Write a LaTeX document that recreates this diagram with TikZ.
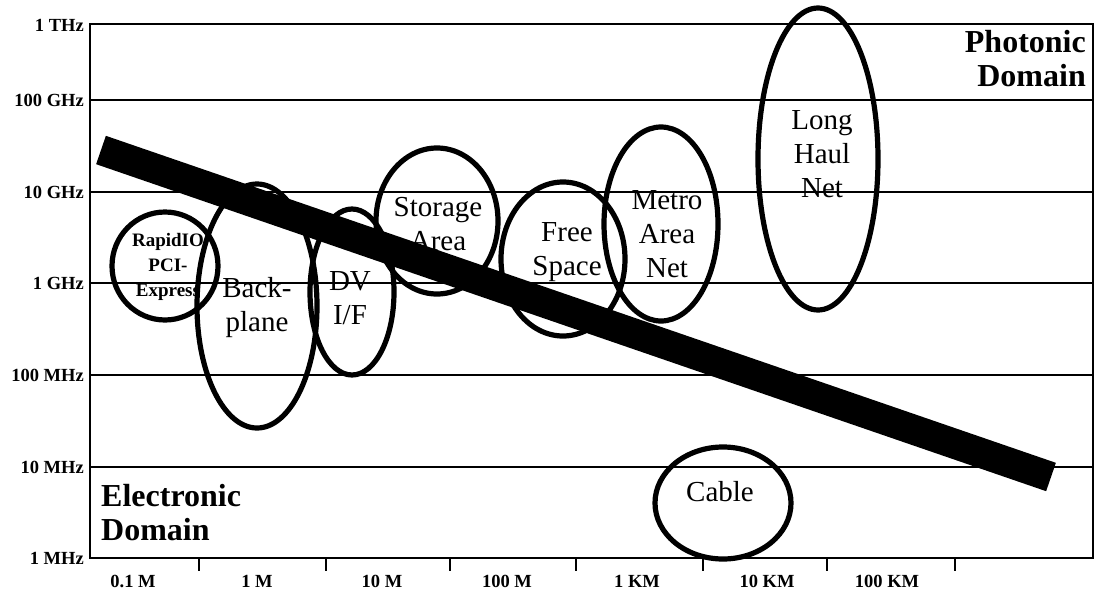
\documentclass[tikz,border=0pt]{standalone}
\usepackage{fontspec}
\setmainfont{Liberation Serif}
\usepackage{tikz}
\usetikzlibrary{calc,backgrounds}

\tikzset{
    zone/.style={line width=5.2pt},
    zonelabel/.style={align=center,inner sep=0pt,font=\fontsize{29}{34}\selectfont},
    smalllabel/.style={align=center,inner sep=0pt,font=\bfseries\fontsize{19}{25}\selectfont},
    axislabel/.style={inner sep=0pt,font=\bfseries\fontsize{18.5}{20}\selectfont},
    domainlabel/.style={inner sep=0pt,font=\bfseries\fontsize{32}{34}\selectfont},
    grid line/.style={line width=1.4pt}
}

\begin{document}
\begin{tikzpicture}[x=1pt,y=-1pt]
    \useasboundingbox (0,0) rectangle (1095,600);
    \coordinate (origo) at (90,558);
    \coordinate (corner) at (1093,24);

    % frequency lines
    \foreach \yy in {100,192,283,375,467} {
        \draw[grid line] (90,\yy) -- (1093,\yy);
    }
    \draw[line width=2.2pt] (origo) rectangle (corner);
    \foreach \xx in {199,326,450,576,703,827,955} {
        \draw[line width=1.6pt] (\xx,558) -- ++(0,13);
    }

    \node[axislabel,anchor=east] (thz) at (84,25) {1 THz};
    \node[axislabel,anchor=east] (ghzc) at (84,100) {100 GHz};
    \node[axislabel,anchor=east] (ghzx) at (84,192) {10 GHz};
    \node[axislabel,anchor=east] (ghz) at (84,283) {1 GHz};
    \node[axislabel,anchor=east] (mhzc) at (84,375) {100 MHz};
    \node[axislabel,anchor=east] (mhzx) at (84,467) {10 MHz};
    \node[axislabel,anchor=east] (mhz) at (84,558) {1 MHz};

    \node[axislabel] (dm) at (133,581) {0.1 M};
    \node[axislabel] (m) at (257,581) {1 M};
    \node[axislabel] (mx) at (382,581) {10 M};
    \node[axislabel] (mc) at (507,581) {100 M};
    \node[axislabel] (km) at (637,581) {1 KM};
    \node[axislabel] (kmx) at (767,581) {10 KM};
    \node[axislabel] (kmc) at (887,581) {100 KM};

    \node[domainlabel,anchor=east,align=right] (photonic) at (1086,59) {Photonic\\Domain};
    \node[domainlabel,anchor=west,align=left] (electronic) at (101,513) {Electronic\\Domain};

    % application areas
    \coordinate (rapidio) at (165,266);
    \draw[zone] (rapidio) ellipse [x radius=53, y radius=54];
    \node[smalllabel] (rapidiotxt) at (168,267) {RapidIO\\PCI-\\Express};

    \coordinate (backplane) at (257,306);
    \draw[zone] (backplane) ellipse [x radius=60, y radius=122];
    \node[zonelabel] (backplanetxt) at (257,308) {Back-\\plane};

    \coordinate (dvif) at (352,292);
    \draw[zone] (dvif) ellipse [x radius=42, y radius=83];
    \node[zonelabel] (dviftxt) at (350,298) {DV\\I/F};

    \coordinate (storage) at (437,221);
    \draw[zone] (storage) ellipse [x radius=61, y radius=73];
    \node[zonelabel] (storagetxt) at (438,224) {Storage\\Area};

    \coordinate (freespace) at (563,259);
    \draw[zone] (freespace) ellipse [x radius=62, y radius=77];
    \node[zonelabel] (freespacetxt) at (567,252) {Free\\Space};

    \coordinate (metro) at (661,224);
    \draw[zone] (metro) ellipse [x radius=57, y radius=97];
    \node[zonelabel] (metrotxt) at (667,234) {Metro\\Area\\Net};

    \coordinate (longhaul) at (818,159);
    \draw[zone] (longhaul) ellipse [x radius=60, y radius=151];
    \node[zonelabel] (longhaultxt) at (822,154) {Long\\Haul\\Net};

    \coordinate (cable) at (723,503);
    \draw[zone] (cable) ellipse [x radius=68, y radius=56];
    \node[zonelabel] (cabletxt) at (720,492) {Cable};

    % boundary between the two domains
    \pgfmathsetmacro{\bw}{30}
    \coordinate (bandL) at (101,150);
    \coordinate (bandR) at (1051,477);
    \draw[line width=\bw pt] (bandL) -- (bandR);

\end{tikzpicture}
\end{document}
